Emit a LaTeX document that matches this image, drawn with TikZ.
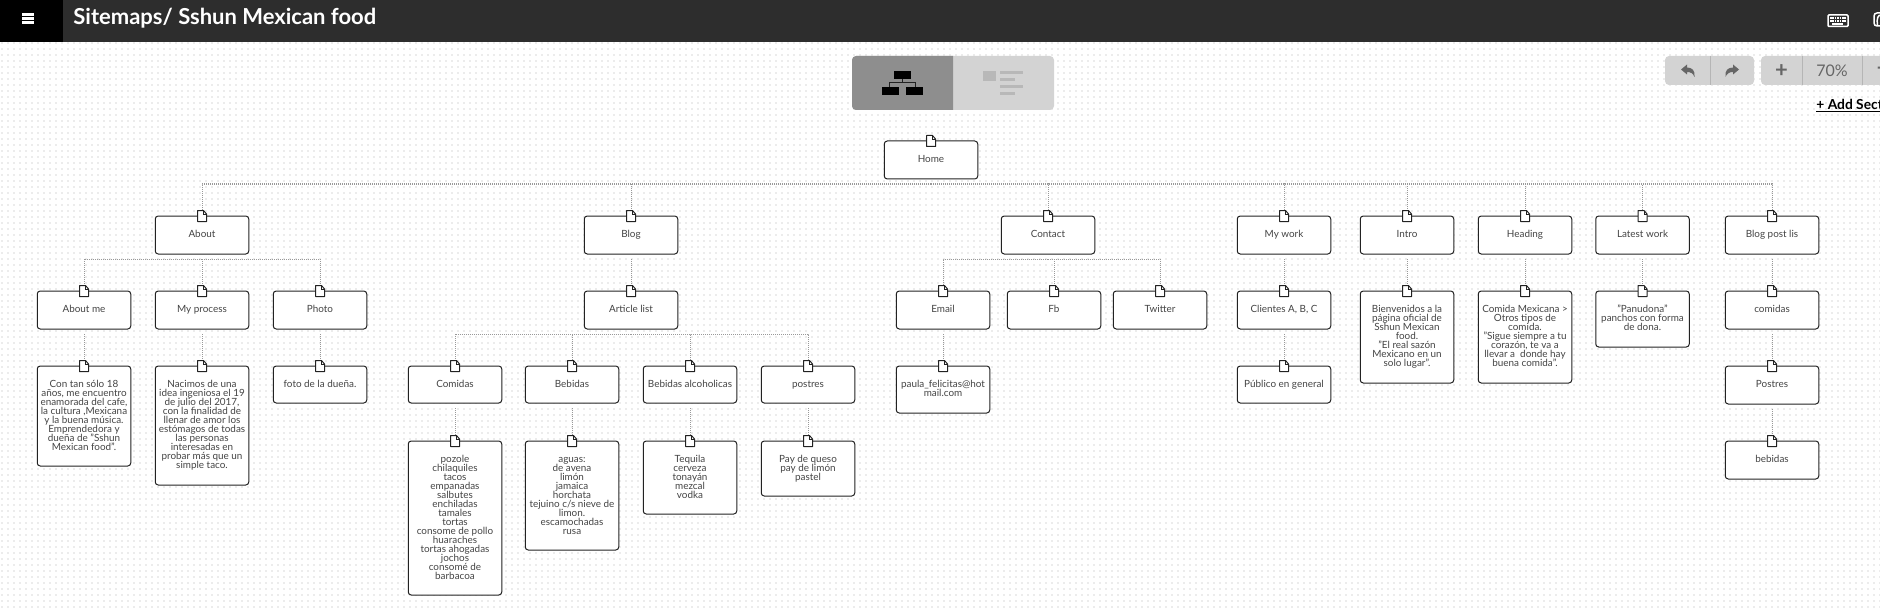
\documentclass[tikz,border=0pt]{standalone}
\usepackage{fontspec}
\setmainfont{Lato}
\definecolor{hdr}{HTML}{2D2D2D}
\definecolor{dotc}{HTML}{ECECEC}
\definecolor{linec}{HTML}{999999}
\definecolor{edgec}{HTML}{222222}
\definecolor{txt}{HTML}{444444}
\definecolor{btn}{HTML}{D3D3D3}
\definecolor{btndark}{HTML}{8E8E8E}
\definecolor{btnline}{HTML}{B5B5B5}
\definecolor{btnink}{HTML}{666666}
\definecolor{listink}{HTML}{B8B8B8}
\tikzset{
  pagebox/.style={draw=edgec,fill=white,line width=0.5pt,rounded corners=1.5pt,inner sep=0pt,outer sep=0pt,anchor=north,text=txt},
  conn/.style={draw=linec,line width=0.5pt,dash pattern=on 0.5pt off 0.5pt},
  pageicon/.style={draw=edgec,fill=white,line width=0.5pt,line join=round},
  btntext/.style={text=btnink,inner sep=0pt},
}
\newcommand\tbox[5]{\node[pagebox] (#1) at (#2,#3) {\parbox[c][\dimexpr#4pt/2\relax][t]{46.75pt}{\fontsize{4.95}{4.5}\selectfont\lineskiplimit=-10pt\centering\rule{0pt}{10.6pt}#5\par}};}
\newcommand\undoshape{(1681,69.5) -- (1687,64.5) -- (1687,67.5) .. controls (1692,67.5) and (1695.5,70.5) .. (1694.5,77) .. controls (1693,73.5) and (1691,72) .. (1687,72) -- (1687,74.5) -- cycle}
\begin{document}
\begin{tikzpicture}[x=0.5pt,y=-0.5pt]
\useasboundingbox (0,0) rectangle (1880,610);
\clip (0,0) rectangle (1880,610);
\fill[white] (0,0) rectangle (1880,610);
% dotted canvas
\foreach \yy in {43,49,...,607}{\draw[dotc,line width=1pt,dash pattern=on 1pt off 2pt] (1,\yy) -- (1880,\yy);}
% header
\fill[hdr] (0,0) rectangle (1880,42);
\fill[black] (0,0) rectangle (63,42);
\foreach \yy in {13,17,21}{\fill[white] (22,\yy) rectangle (34,\yy+2.6);}
\node[anchor=base west,inner sep=0pt,text=white,font=\fontsize{11}{12}\selectfont\bfseries] (title) at (73,25) {Sitemaps/ Sshun Mexican food};
% keyboard icon
\draw[white,line width=0.75pt,rounded corners=0.5pt] (1828,15) rectangle (1848,26.5);
\foreach \yy in {18,21}{\draw[white,line width=1pt,dash pattern=on 0.8pt off 0.4pt] (1830,\yy) -- (1846,\yy);}
\draw[white,line width=1pt] (1832,24) -- (1843,24);
% second header icon
\draw[white,line width=0.75pt,rounded corners=1.5pt] (1874,13) rectangle (1900,26);
\draw[white,line width=0.75pt] (1877.5,25) .. controls (1876.5,18) and (1878,15) .. (1881,15);
% view toggle
\fill[btn,rounded corners=2pt] (852,56) rectangle (1054,110);
\begin{scope}
\clip (852,56) rectangle (953,110);
\fill[btndark,rounded corners=2pt] (852,56) rectangle (1054,110);
\end{scope}
\fill[black] (894,71) rectangle (911,79);
\fill[black] (882,87) rectangle (898.5,95);
\fill[black] (906,87) rectangle (923,95);
\draw[edgec,line width=0.5pt] (902.5,79) -- (902.5,83) (889.5,87) -- (889.5,83) -- (915,83) -- (915,87);
\fill[listink] (983,71) rectangle (996,81);
\fill[listink] (1000,71) rectangle (1023,74);
\fill[listink] (1000,78) rectangle (1015,81);
\fill[listink] (1000,85) rectangle (1023,88);
\fill[listink] (1000,92) rectangle (1015,95);
% undo and redo
\fill[btn,rounded corners=2pt] (1665,56) rectangle (1754,85);
\draw[btnline,line width=0.5pt] (1710,56) -- (1710,85);
\fill[btnink] \undoshape;
\begin{scope}[shift={(3420,0)},xscale=-1]
\fill[btnink] \undoshape;
\end{scope}
% zoom group
\fill[btn,rounded corners=2pt] (1761,56) rectangle (1900,85);
\draw[btnline,line width=0.5pt] (1802,56) -- (1802,85) (1862,56) -- (1862,85);
\node[btntext,font=\fontsize{11}{12}\selectfont\bfseries] (zoomin) at (1781.5,71.5) {+};
\node[btntext,text=btnink,font=\fontsize{8}{10}\selectfont] (zoomval) at (1832,71) {70\%};
\node[btntext,anchor=west,font=\fontsize{11}{12}\selectfont\bfseries] (zoomout) at (1876,71.5) {−};
\node[anchor=base west,inner sep=0pt,text=black,font=\fontsize{6.9}{9}\selectfont\bfseries] (addsec) at (1816,110) {+ Add Section};
\draw[black,line width=0.5pt] ([yshift=-0.7pt]addsec.base west) -- ([yshift=-0.7pt]addsec.base east);
% nodes
\tbox{home}{931}{141}{38}{Home}
\tbox{about}{202}{216}{38}{About}
\tbox{blog}{631}{216}{38}{Blog}
\tbox{contact}{1048}{216}{38}{Contact}
\tbox{mywork}{1284}{216}{38}{My work}
\tbox{intro}{1407}{216}{38}{Intro}
\tbox{heading}{1525}{216}{38}{Heading}
\tbox{latest}{1642.5}{216}{38}{Latest work}
\tbox{blogpost}{1772}{216}{38}{Blog post lis}
\tbox{aboutme}{84}{291}{38}{About me}
\tbox{myprocess}{202}{291}{38}{My process}
\tbox{photo}{320}{291}{38}{Photo}
\tbox{articles}{631}{291}{38}{Article list}
\tbox{email}{943}{291}{38}{Email}
\tbox{fb}{1054}{291}{38}{Fb}
\tbox{twitter}{1160}{291}{38}{Twitter}
\tbox{clients}{1284}{291}{38}{Clientes A, B, C}
\tbox{introtxt}{1407}{291}{92}{Bienvenidos a la\\página oficial de\\Sshun Mexican\\food.\\"El real sazón\\Mexicano en un\\solo lugar".}
\tbox{headtxt}{1525}{291}{92}{Comida Mexicana >\\Otros tipos de\\comida.\\"Sigue siempre a tu\\corazón, te va a\\llevar a\ \ donde hay\\buena comida".}
\tbox{latesttxt}{1642.5}{291}{56}{"Panudona"\\panchos con forma\\de dona.}
\tbox{comidas}{1772}{291}{38}{comidas}
\tbox{aboutmetxt}{84}{366}{100}{Con tan sólo 18\\años, me encuentro\\enamorada del cafe,\\la cultura ,Mexicana\\y la buena música.\\Emprendedora y\\dueña de "Sshun\\Mexican food".}
\tbox{processtxt}{202}{366}{119}{Nacimos de una\\idea ingeniosa el 19\\de julio del 2017,\\con la finalidad de\\llenar de amor los\\estómagos de todas\\las personas\\interesadas en\\probar más que un\\simple taco.}
\tbox{phototxt}{320}{366}{37}{foto de la dueña.}
\tbox{comidascat}{455}{366}{37}{Comidas}
\tbox{bebidascat}{572}{366}{37}{Bebidas}
\tbox{alcohol}{690}{366}{37}{Bebidas alcoholicas}
\tbox{postrescat}{808}{366}{37}{postres}
\tbox{emailtxt}{943}{366}{47}{paula\_felicitas@hot\\mail.com}
\tbox{publico}{1284}{366}{37}{Público en general}
\tbox{postres}{1772}{366}{38}{Postres}
\tbox{comidastxt}{455}{441}{154}{pozole\\chilaquiles\\tacos\\empanadas\\salbutes\\enchiladas\\tamales\\tortas\\consome de pollo\\huaraches\\tortas ahogadas\\jochos\\consomé de\\barbacoa}
\tbox{bebidastxt}{572}{441}{109}{aguas:\\de avena\\limón\\jamaica\\horchata\\tejuino c/s nieve de\\limon.\\escamochadas\\rusa}
\tbox{alcoholtxt}{690}{441}{73}{Tequila\\cerveza\\tonayán\\mezcal\\vodka}
\tbox{postrestxt}{808}{441}{55}{Pay de queso\\pay de limón\\pastel}
\tbox{bebidas}{1772}{441}{38}{bebidas}
% connectors
\foreach \parent/\child in {home/about,home/blog,home/contact,home/mywork,home/intro,home/heading,home/latest,home/blogpost,
  about/aboutme,about/myprocess,about/photo,blog/articles,contact/email,contact/fb,contact/twitter,mywork/clients,intro/introtxt,heading/headtxt,latest/latesttxt,blogpost/comidas,
  aboutme/aboutmetxt,myprocess/processtxt,photo/phototxt,articles/comidascat,articles/bebidascat,articles/alcohol,articles/postrescat,email/emailtxt,clients/publico,comidas/postres,
  comidascat/comidastxt,bebidascat/bebidastxt,alcohol/alcoholtxt,postrescat/postrestxt,postres/bebidas}{
  \draw[conn] ([yshift=-2.5pt]\parent.south) -| (\child.north);
}
% page icons
\foreach \n in {home,about,blog,contact,mywork,intro,heading,latest,blogpost,aboutme,myprocess,photo,articles,email,fb,twitter,clients,introtxt,headtxt,latesttxt,comidas,aboutmetxt,processtxt,phototxt,comidascat,bebidascat,alcohol,postrescat,emailtxt,publico,postres,comidastxt,bebidastxt,alcoholtxt,postrestxt,bebidas}{
  \begin{scope}[shift={(\n.north)}]
    \draw[pageicon] (-4.5,-5.5) -- (1.5,-5.5) -- (4.5,-2) -- (4.5,5.5) -- (-4.5,5.5) -- cycle;
    \draw[edgec,line width=0.4pt] (1.5,-5.5) -- (1.5,-2) -- (4.5,-2);
  \end{scope}
}
\end{tikzpicture}
\end{document}
